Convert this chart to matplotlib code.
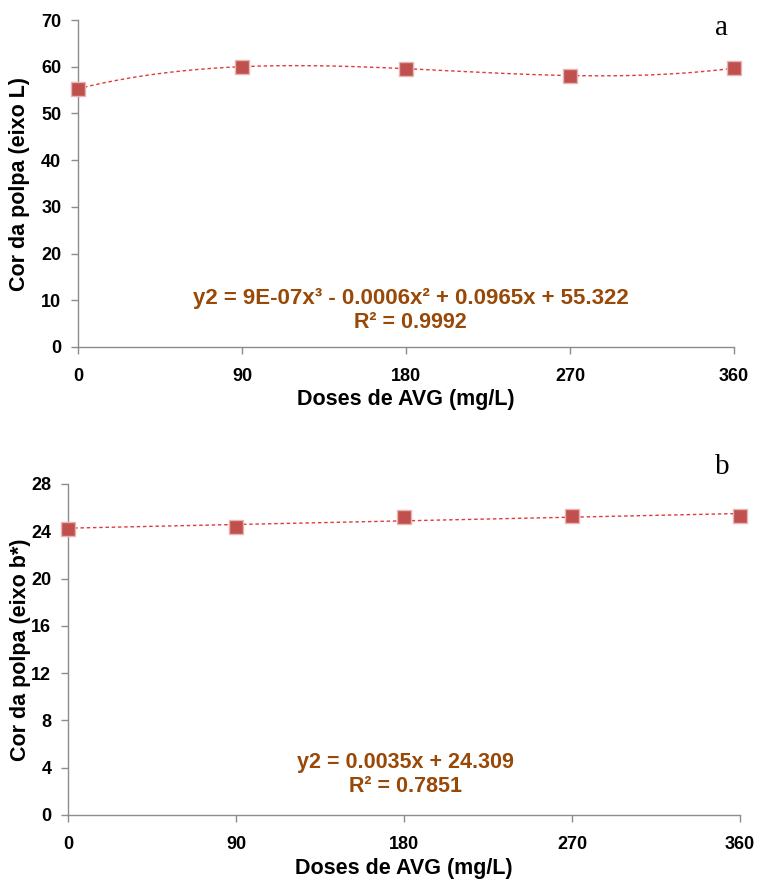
import numpy as np
import matplotlib
matplotlib.use("Agg")
import matplotlib.pyplot as plt

plt.rcParams['font.family'] = ['Liberation Sans', 'DejaVu Sans']

# data
doses = [0, 90, 180, 270, 360]
cor_L = [55.3, 60.0, 59.6, 58.1, 59.7]
cor_b = [24.2, 24.4, 25.2, 25.3, 25.3]
xticks = [0, 90, 180, 270, 360]
eq_a = ["y2 = 9E-07x\u00b3 - 0.0006x\u00b2 + 0.0965x + 55.322", "R\u00b2 = 0.9992"]
eq_b = ["y2 = 0.0035x + 24.309", "R\u00b2 = 0.7851"]

mark_col = '#C0504D'
line_col = '#E03A3A'
eq_col = '#984807'
grey = '#8C8C8C'


def style_axes(ax, ymax, ystep, ylabel, ylab_x):
    for s in ['top', 'right']:
        ax.spines[s].set_visible(False)
    for s in ['left', 'bottom']:
        ax.spines[s].set_color(grey)
        ax.spines[s].set_linewidth(1.0)
    ax.set_xlim(0, 360)
    ax.set_ylim(0, ymax)
    ax.set_xticks(xticks)
    ax.set_yticks(np.arange(0, ymax + 1, ystep))
    ax.tick_params(axis='both', colors=grey, length=5, width=1,
                   labelcolor='black', labelsize=13)
    ax.tick_params(axis='x', pad=10)
    ax.tick_params(axis='y', pad=7)
    for lab in ax.get_xticklabels() + ax.get_yticklabels():
        lab.set_fontweight('bold')
    ax.set_xlabel('Doses de AVG (mg/L)', fontsize=15.5, fontweight='bold')
    ax.set_ylabel(ylabel, fontsize=15.5, fontweight='bold')
    ax.yaxis.label.set_va('center')
    ax.yaxis.set_label_coords(ylab_x, 0.5)
    ax.xaxis.label.set_va('center')
    ax.patch.set_alpha(0)


fig = plt.figure(figsize=(7.57, 8.82), dpi=100)

# panel a
ax1 = fig.add_axes([0.1030, 0.6066, 0.8666, 0.3707])
xx = np.linspace(0, 360, 300)
c3 = np.polyfit(doses, cor_L, 3)
ax1.plot(xx, np.polyval(c3, xx), color=line_col, lw=1, ls=(0, (2.5, 2)))
ax1.plot(doses, cor_L, ls='none', marker='s', ms=10, color=mark_col,
         mec='#E8B4B3', mew=1, clip_on=False, zorder=3)
style_axes(ax1, 70, 10, 'Cor da polpa (eixo L)', -0.0885)
ax1.xaxis.set_label_coords(0.5, -0.160)
ax1.text(0.507, 0.148, eq_a[0], transform=ax1.transAxes, ha='center',
         va='center', color=eq_col, fontsize=16, fontweight='bold')
ax1.text(0.507, 0.075, eq_a[1], transform=ax1.transAxes, ha='center',
         va='center', color=eq_col, fontsize=15.5, fontweight='bold')
fig.text(722 / 757, 1 - 28 / 882, 'a', family='Liberation Serif',
         fontsize=21, ha='center', va='center')

# panel b
ax2 = fig.add_axes([0.0898, 0.0760, 0.8877, 0.3753])
c1 = np.polyfit(doses, cor_b, 1)
ax2.plot(xx, np.polyval(c1, xx), color=line_col, lw=1, ls=(0, (2.5, 2)))
ax2.plot(doses, cor_b, ls='none', marker='s', ms=10, color=mark_col,
         mec='#E8B4B3', mew=1, clip_on=False, zorder=3)
style_axes(ax2, 28, 4, 'Cor da polpa (eixo b*)', -0.0700)
ax2.xaxis.set_label_coords(0.5, -0.161)
ax2.text(0.502, 0.157, eq_b[0], transform=ax2.transAxes, ha='center',
         va='center', color=eq_col, fontsize=15.5, fontweight='bold')
ax2.text(0.502, 0.085, eq_b[1], transform=ax2.transAxes, ha='center',
         va='center', color=eq_col, fontsize=15.5, fontweight='bold')
fig.text(722 / 757, 1 - 467 / 882, 'b', family='Liberation Serif',
         fontsize=21, ha='center', va='center')

fig.savefig('out.png', dpi=100)
